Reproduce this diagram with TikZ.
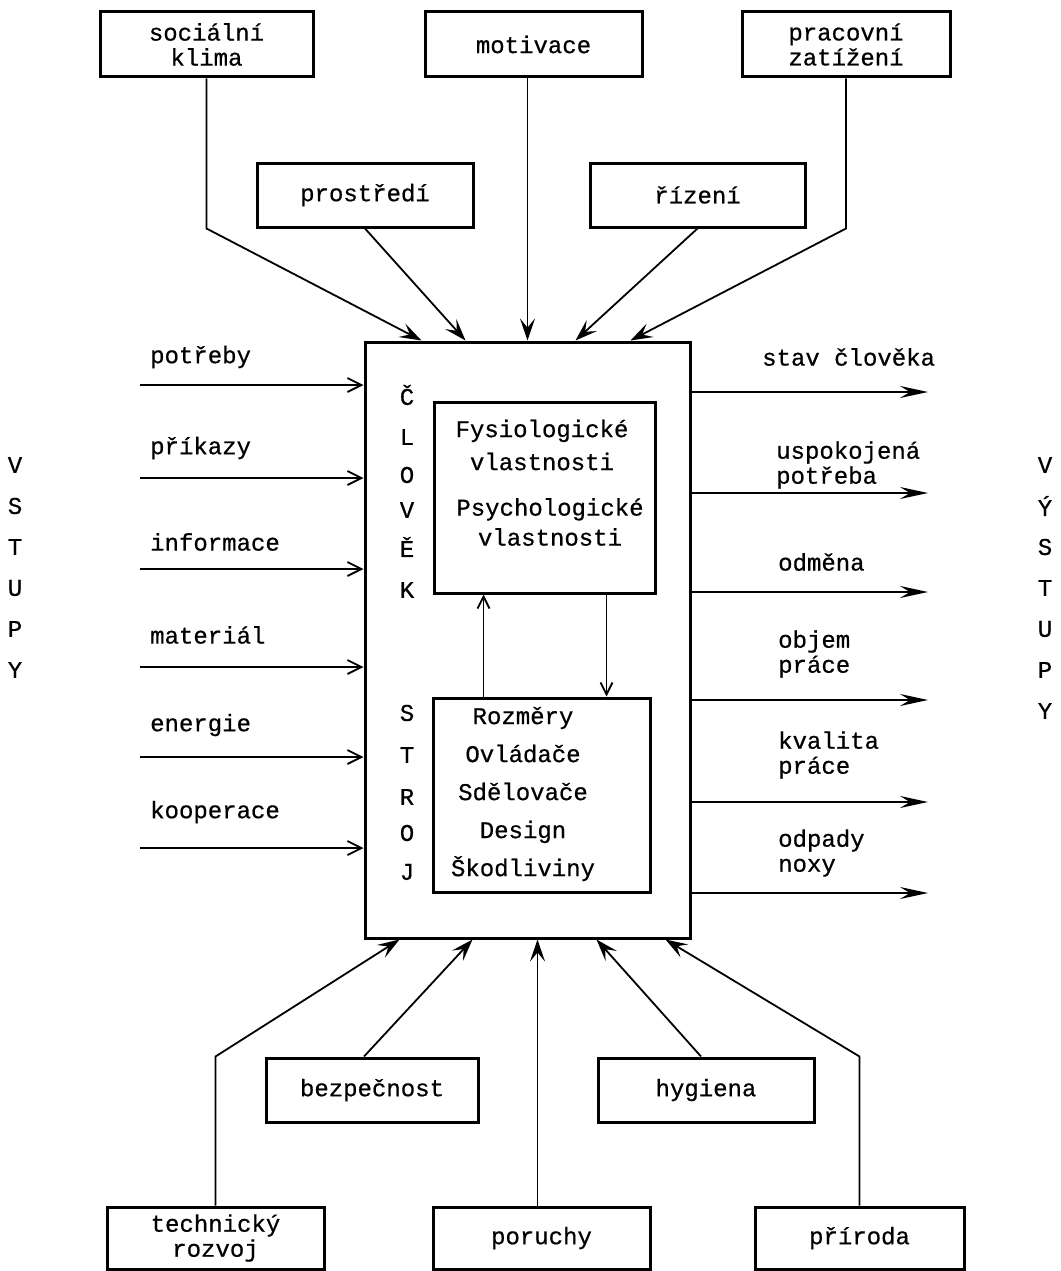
\documentclass[tikz,border=0pt]{standalone}
\usepackage{fontspec}
\setmonofont[FakeBold=0.6]{Liberation Mono}
\usetikzlibrary{arrows.meta,calc}

\begin{document}
\begin{tikzpicture}[x=1pt,y=-1pt,
  txt/.style={font=\ttfamily\fontsize{24}{25}\selectfont, inner sep=0pt, align=center},
  lbl/.style={txt, anchor=west, align=left},
  tbox/.style={txt, draw, line width=3pt, minimum width=213pt, minimum height=65pt},
  frame/.style={draw, line width=3pt},
  conn/.style={line width=1.8pt},
  inarr/.style={conn, -{Straight Barb[length=14pt,width=14pt,line width=1.8pt]}},
  outarr/.style={conn, -{Stealth[length=28pt,width=12pt,inset=10pt]}},
  sidearr/.style={conn, -{Stealth[length=22pt,width=15pt,inset=9pt]}}
]
\useasboundingbox (0,0) rectangle (1060,1271);
\fill[white] (0,0) rectangle (1060,1271);

% central block: man and machine
\node[frame, minimum width=325pt, minimum height=596pt] (big) at (527.5,640) {};
\node[frame, minimum width=221pt, minimum height=191pt] (upper) at (544.5,497.5) {};
\node[frame, minimum width=217pt, minimum height=194pt] (lower) at (541.5,795) {};

\node[txt] (fys) at (542,445) {Fysiologické\\[8pt]vlastnosti};
\node[txt] (psy) at (550,522) {Psychologické\\[5pt]vlastnosti};
\node[txt] (parts) at (523,794) {Rozměry\\[13pt]Ovládače\\[13pt]Sdělovače\\[13pt]Design\\[13pt]Škodliviny};

\foreach \ch/\y [count=\i] in {Č/395, L/437, O/475, V/510, Ě/547, K/590}
  \node[txt] (clovek\i) at (407,\y) {\ch};
\foreach \ch/\y [count=\i] in {S/713, T/755, R/797, O/833, J/872}
  \node[txt] (stroj\i) at (407,\y) {\ch};

\draw[conn, -{Straight Barb[length=12pt,width=12pt,line width=1.8pt]}]
  ([xshift=52pt]lower.north west) -- ([xshift=52pt]lower.north west |- upper.south);
\draw[conn, -{Straight Barb[length=12pt,width=12pt,line width=1.8pt]}]
  ([xshift=174pt]upper.south west) -- ([xshift=174pt]upper.south west |- lower.north);

% influences from above
\node[tbox] (soc) at (206.5,44.5) {sociální\\klima};
\node[tbox, minimum width=217pt] (mot) at (533.5,44.5) {motivace};
\node[tbox, minimum width=208pt] (prac) at (846,44.5) {pracovní\\zatížení};
\node[tbox, minimum width=216pt, minimum height=64pt] (prost) at (365,195) {prostředí};
\node[tbox, minimum width=215pt, minimum height=64pt] (riz) at (697.5,195) {řízení};

\draw[sidearr] (soc.south) -- (soc.south |- prost.south) -- ([xshift=58pt]big.north west);
\draw[sidearr] (prost.south) -- ([xshift=102pt]big.north west);
\draw[sidearr] (big.north |- mot.south) -- (big.north);
\draw[sidearr] (riz.south) -- ([xshift=212pt]big.north west);
\draw[sidearr] (prac.south) -- (prac.south |- riz.south) -- ([xshift=267pt]big.north west);

% influences from below
\node[tbox, minimum width=212pt, minimum height=64pt] (bez) at (372,1090) {bezpečnost};
\node[tbox, minimum width=216pt, minimum height=64pt] (hyg) at (706,1090) {hygiena};
\node[tbox, minimum width=217pt, minimum height=62pt] (tech) at (215.5,1238) {technický\\rozvoj};
\node[tbox, minimum width=217pt, minimum height=62pt] (por) at (541.5,1238) {poruchy};
\node[tbox, minimum width=209pt, minimum height=62pt] (pri) at (859.5,1238) {příroda};

\draw[sidearr] (tech.north) -- (tech.north |- bez.north) -- ([xshift=36pt]big.south west);
\draw[sidearr] ([xshift=-8pt]bez.north) -- ([xshift=109pt]big.south west);
\draw[sidearr] ([xshift=-4pt]por.north) -- ([xshift=-4pt]por.north |- big.south);
\draw[sidearr] ([xshift=-5pt]hyg.north) -- ([xshift=233pt]big.south west);
\draw[sidearr] (pri.north) -- (pri.north |- hyg.north) -- ([xshift=302pt]big.south west);

% inputs
\foreach \t/\ya/\yl [count=\i] in {potřeby/385/357, příkazy/478/448, informace/569/542,
    materiál/667/635, energie/757/725, kooperace/848/812} {
  \coordinate (src\i) at (140,\ya);
  \draw[inarr] (src\i) -- (src\i -| big.west);
  \node[lbl] (inlbl\i) at (150,\yl) {\t};
}

% outputs
\foreach \y [count=\i] in {392, 493, 592, 700, 802, 893} {
  \coordinate (dst\i) at (928,\y);
  \draw[outarr] (dst\i -| big.east) -- (dst\i);
}
\node[lbl] (outlbl1) at (762,357) {stav člověka};
\node[lbl] (outlbl2) at (776,465) {uspokojená\\potřeba};
\node[lbl] (outlbl3) at (778,562) {odměna};
\node[lbl] (outlbl4) at (778,654) {objem\\práce};
\node[lbl] (outlbl5) at (778,755) {kvalita\\práce};
\node[lbl] (outlbl6) at (778,853) {odpady\\noxy};

% side captions
\foreach \ch/\y [count=\i] in {V/465, S/506, T/547, U/588, P/629, Y/670}
  \node[txt] (vstupy\i) at (15,\y) {\ch};
\foreach \ch/\y [count=\i] in {V/465, Ý/506, S/547, T/588, U/629, P/670, Y/711}
  \node[txt] (vystupy\i) at (1045,\y) {\ch};
\end{tikzpicture}
\end{document}
